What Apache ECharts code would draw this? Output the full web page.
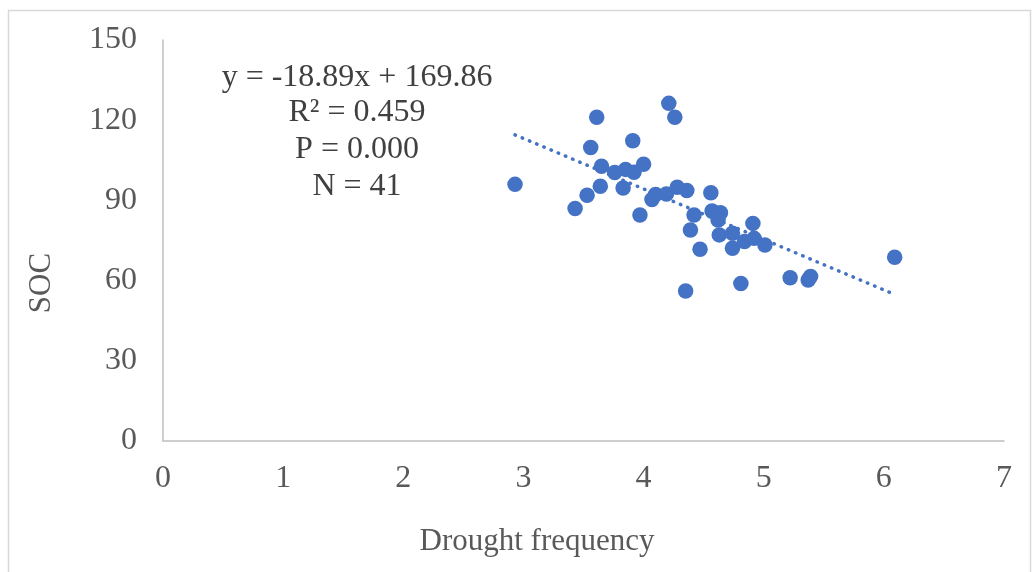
<!DOCTYPE html>
<html>
<head>
<meta charset="utf-8">
<script src="https://cdn.jsdelivr.net/npm/echarts@6/dist/echarts.min.js"></script>
<style>
  html, body { margin: 0; padding: 0; background: #fff; }
  #chart { width: 1032px; height: 572px; }
</style>
</head>
<body>
<div id="chart"></div>
<script>
// Drought frequency (x) values
const droughtFreq = [
  2.93, 3.43, 3.53, 3.56, 3.61, 3.64, 3.65, 3.76, 3.83, 3.85,
  3.91, 3.92, 3.97, 4.00, 4.07, 4.10, 4.19, 4.21, 4.26, 4.28,
  4.36, 4.35, 4.39, 4.42, 4.47, 4.56, 4.57, 4.64, 4.62, 4.63,
  4.74, 4.74, 4.81, 4.84, 4.91, 4.92, 5.01, 5.22, 5.37, 5.39,
  6.09
];
// SOC (y) values
const socValues = [
  96.0, 87.0, 91.9, 109.8, 121.1, 95.3, 102.8, 100.4, 94.6, 101.6,
  112.3, 100.5, 84.5, 103.5, 90.3, 92.2, 92.4, 126.3, 121.1, 94.9,
  93.7, 56.1, 78.9, 84.5, 71.7, 92.9, 86.0, 85.4, 82.7, 77.1,
  72.1, 77.7, 58.9, 74.6, 81.4, 75.8, 73.3, 61.1, 60.2, 61.5,
  68.7
];
// Linear trendline as displayed: y = -18.89x + 169.86, over the x range of the data
const trendSlope = -18.89;
const trendIntercept = 169.86;
const trendXRange = [2.93, 6.09];
const xTicks = [0, 1, 2, 3, 4, 5, 6, 7];
const yTicks = [0, 30, 60, 90, 120, 150];
const annotationLines = ['y = -18.89x + 169.86', 'R² = 0.459', 'P = 0.000', 'N = 41'];

const points = droughtFreq.map((x, i) => [x, socValues[i]]);
const trendData = trendXRange.map(x => [x, trendSlope * x + trendIntercept]);

const FONT = "'Liberation Serif', 'Times New Roman', serif";
const chart = echarts.init(document.getElementById('chart'), null, { renderer: 'canvas' });

const annotationGraphics = annotationLines.map((t, i) => ({
  type: 'text',
  x: 357,
  y: [78, 113, 150, 187][i],
  style: {
    text: t,
    font: '32px ' + FONT,
    fill: '#404040',
    textAlign: 'center',
    textVerticalAlign: 'middle'
  },
  z: 10
}));

chart.setOption({
  animation: false,
  backgroundColor: '#ffffff',
  grid: { left: 163, right: 28, top: 40, bottom: 131, containLabel: false },
  xAxis: {
    type: 'value',
    min: xTicks[0],
    max: xTicks[xTicks.length - 1],
    interval: 1,
    splitLine: { show: false },
    axisTick: { show: false },
    axisLine: { show: true, onZero: false, lineStyle: { color: '#bfbfbf', width: 1.5 } },
    axisLabel: { color: '#595959', fontFamily: FONT, fontSize: 32, margin: 22 }
  },
  yAxis: {
    type: 'value',
    min: yTicks[0],
    max: yTicks[yTicks.length - 1],
    interval: 30,
    splitLine: { show: false },
    axisTick: { show: false },
    axisLine: { show: true, onZero: false, lineStyle: { color: '#bfbfbf', width: 1.5 } },
    axisLabel: { color: '#595959', fontFamily: FONT, fontSize: 32, margin: 26, padding: [10, 0, 0, 0] }
  },
  series: [
    {
      type: 'scatter',
      data: points,
      symbol: 'circle',
      symbolSize: 15.5,
      itemStyle: { color: '#4472C4', opacity: 1 },
      z: 2
    },
    {
      type: 'line',
      data: trendData,
      showSymbol: false,
      symbol: 'none',
      lineStyle: { color: '#4472C4', width: 3.5, type: [0.5, 7.3], cap: 'round' },
      z: 3
    }
  ],
  graphic: [
    {
      type: 'rect',
      shape: { x: 8.5, y: 10.5, width: 1022, height: 600 },
      style: { fill: 'none', stroke: '#d9d9d9', lineWidth: 1.5 },
      z: -1
    },
    {
      type: 'text',
      x: 42,
      y: 283,
      rotation: Math.PI / 2,
      style: {
        text: 'SOC',
        font: '31px ' + FONT,
        fill: '#595959',
        textAlign: 'center',
        textVerticalAlign: 'middle'
      }
    },
    {
      type: 'text',
      x: 537,
      y: 542,
      style: {
        text: 'Drought frequency',
        font: '31px ' + FONT,
        fill: '#595959',
        textAlign: 'center',
        textVerticalAlign: 'middle'
      }
    }
  ].concat(annotationGraphics)
});
</script>
</body>
</html>
